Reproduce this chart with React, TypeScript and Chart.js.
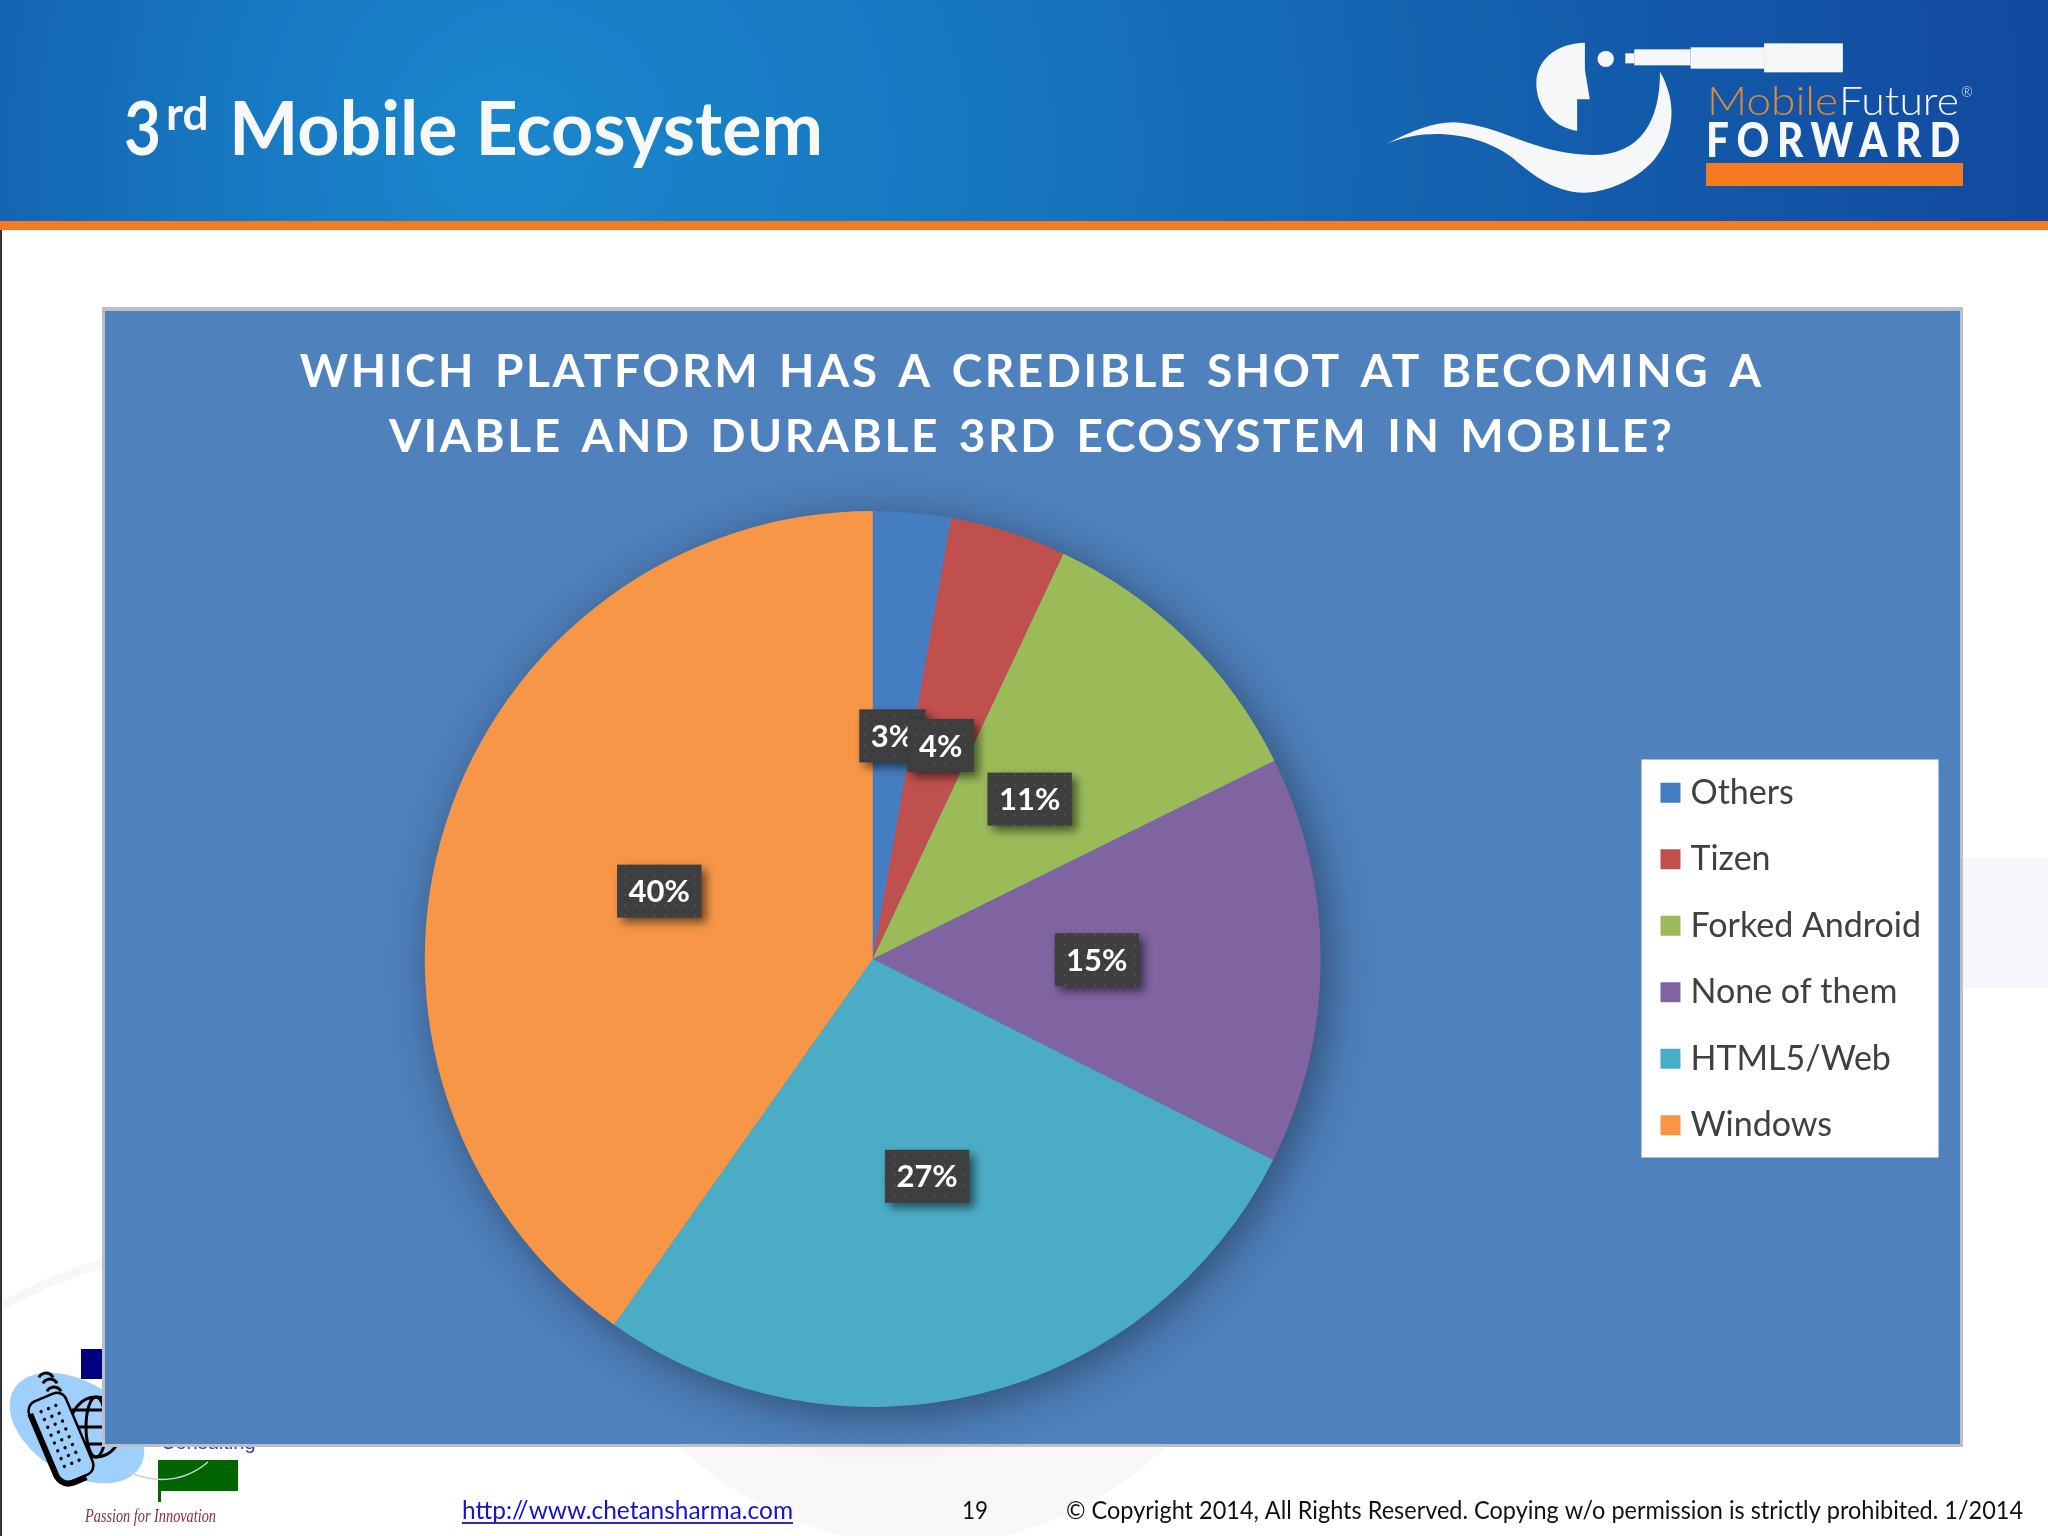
import React, { useEffect, useRef } from "react";
import { Chart, registerables } from "chart.js";

Chart.register(...registerables);

const categories = ["Others", "Tizen", "Forked Android", "None of them", "HTML5/Web", "Windows"];
const shares = [2.8, 4.2, 10.7, 14.7, 27.4, 40.2];
const sliceColors = ["#457dc1", "#c0504d", "#9bbb59", "#8064a2", "#4bacc6", "#f79646"];
const chartTitle = [
  "WHICH PLATFORM HAS A CREDIBLE SHOT AT BECOMING A",
  "VIABLE AND DURABLE 3RD ECOSYSTEM IN MOBILE?",
];
const footerLink = "http://www.chetansharma.com";
const footerPage = "19";
const footerCopy = "© Copyright 2014, All Rights Reserved. Copying w/o permission is strictly prohibited. 1/2014";

type Ctx = CanvasRenderingContext2D;

function rect(c: Ctx, x: number, y: number, w: number, h: number, color: string) {
  c.fillStyle = color;
  c.fillRect(x, y, w, h);
}

function text(c: Ctx, s: string, x: number, y: number, font: string, color: string, maxW?: number, align: CanvasTextAlign = "left") {
  c.font = font;
  c.fillStyle = color;
  c.textAlign = align;
  c.textBaseline = "alphabetic";
  if (maxW) c.fillText(s, x, y, maxW);
  else c.fillText(s, x, y);
}

function stretched(c: Ctx, s: string, x: number, y: number, font: string, color: string, width: number) {
  c.save();
  c.font = font;
  const natural = c.measureText(s).width;
  c.translate(x, y);
  c.scale(width / natural, 1);
  c.fillStyle = color;
  c.textAlign = "left";
  c.textBaseline = "alphabetic";
  c.fillText(s, 0, 0);
  c.restore();
}

function drawSlideBackground(c: Ctx) {
  rect(c, 0, 0, 2048, 1536, "#ffffff");
  // faint master-slide shapes
  c.fillStyle = "#faf7f7";
  c.beginPath();
  c.arc(923, 1195, 350, 0, Math.PI * 2);
  c.fill();
  rect(c, 1963, 858, 85, 130, "#f7f7fb");
  c.strokeStyle = "#f8f7f8";
  c.lineWidth = 9;
  c.beginPath();
  c.moveTo(3, 1305);
  c.quadraticCurveTo(50, 1280, 105, 1262);
  c.stroke();
  rect(c, 0, 230, 2, 1306, "#333333");

  // banner
  const g = c.createRadialGradient(483, 150, 0, 900, 150, 1400);
  g.addColorStop(0, "#1a87cd");
  g.addColorStop(0.25, "#1778c2");
  g.addColorStop(0.5, "#1465b1");
  g.addColorStop(0.86, "#12499e");
  g.addColorStop(1, "#12479c");
  c.fillStyle = g;
  c.fillRect(0, 0, 2048, 221);
  rect(c, 0, 221, 2048, 9, "#f47b20");

  // heading
  text(c, "3", 124, 155, "bold 74px Lato", "#f6f8fa", 37);
  text(c, "rd", 166, 130, "bold 46px Lato", "#f6f8fa", 43);
  text(c, "Mobile Ecosystem", 229, 155, "bold 74px Lato", "#f6f8fa", 594);
}

function drawLogo(c: Ctx) {
  const lx = (z: number) => 1360 + (z * 640) / 1568;
  const ly = (z: number) => 20 + z / 3;
  const white = "#f5f7f8";
  c.fillStyle = white;
  // head
  c.beginPath();
  c.moveTo(lx(551), ly(68));
  c.lineTo(lx(551), ly(150));
  c.lineTo(lx(563), ly(238));
  c.lineTo(lx(532), ly(238));
  c.lineTo(lx(532), ly(333));
  c.bezierCurveTo(lx(470), ly(320), lx(432), ly(260), lx(432), ly(190));
  c.bezierCurveTo(lx(432), ly(120), lx(480), ly(70), lx(551), ly(68));
  c.fill();
  // eye
  c.beginPath();
  c.ellipse(lx(602), ly(117), 8.2, 8, 0, 0, Math.PI * 2);
  c.fill();
  // telescope
  const tube: number[][] = [
    [650, 100, 672, 130],
    [672, 88, 810, 136],
    [810, 82, 990, 146],
    [990, 70, 1183, 157],
  ];
  tube.forEach(([a, b, d, e]) => c.fillRect(lx(a), ly(b), lx(d) - lx(a), ly(e) - ly(b)));
  // swoosh
  c.beginPath();
  c.moveTo(lx(65), ly(372));
  c.bezierCurveTo(lx(130), ly(330), lx(180), ly(308), lx(230), ly(307));
  c.bezierCurveTo(lx(340), ly(312), lx(430), ly(405), lx(570), ly(405));
  c.bezierCurveTo(lx(690), ly(405), lx(735), ly(300), lx(735), ly(155));
  c.bezierCurveTo(lx(775), ly(240), lx(775), ly(340), lx(720), ly(420));
  c.bezierCurveTo(lx(670), ly(490), lx(590), ly(518), lx(550), ly(518));
  c.bezierCurveTo(lx(470), ly(518), lx(410), ly(450), lx(370), ly(410));
  c.bezierCurveTo(lx(300), ly(345), lx(170), ly(315), lx(65), ly(372));
  c.fill();
  // wordmark
  stretched(c, "Mobile", 1707, 115, "300 39px Lato", "#dc8a3c", 131);
  stretched(c, "Future", 1839, 115, "300 39px Lato", white, 120);
  text(c, "®", 1961, 97, "300 14px Lato", white);
  c.save();
  (c as any).letterSpacing = "9px";
  text(c, "FORWARD", 1706, 157, "900 47px Lato", white, 262);
  c.restore();
  rect(c, 1706, 163, 257, 23, "#f47b20");
}

function drawCornerLogo(c: Ctx) {
  rect(c, 81, 1349, 24, 30, "#000080");
  c.fillStyle = "#9fcffb";
  c.beginPath();
  c.ellipse(77, 1428, 74, 46, (32 * Math.PI) / 180, 0, Math.PI * 2);
  c.fill();
  // globe
  c.strokeStyle = "#000000";
  c.lineWidth = 3;
  c.beginPath();
  c.ellipse(96, 1427, 26, 30, 0, 0, Math.PI * 2);
  c.stroke();
  c.beginPath();
  c.ellipse(96, 1427, 10, 30, 0, 0, Math.PI * 2);
  c.stroke();
  [1410, 1427, 1444].forEach((y) => {
    c.beginPath();
    c.moveTo(72, y);
    c.lineTo(122, y);
    c.stroke();
  });
  // remote
  c.save();
  c.translate(61, 1438);
  c.rotate((-23 * Math.PI) / 180);
  c.fillStyle = "#9fcffb";
  c.beginPath();
  c.roundRect(-20, -44, 40, 88, 10);
  c.fill();
  c.strokeStyle = "#000000";
  c.lineWidth = 2.5;
  c.stroke();
  c.lineWidth = 6;
  c.beginPath();
  c.moveTo(-19, -34);
  c.lineTo(-19, 34);
  c.quadraticCurveTo(-17, 45, -6, 46);
  c.lineTo(8, 46);
  c.stroke();
  c.fillStyle = "#000000";
  for (let r = 0; r < 8; r++) {
    for (let k = 0; k < 3; k++) {
      c.beginPath();
      c.arc(-8 + k * 8, -32 + r * 8.5, 1.7, 0, Math.PI * 2);
      c.fill();
    }
  }
  c.restore();
  // signal waves
  c.strokeStyle = "#000000";
  c.lineWidth = 3;
  [[46, 1375], [50, 1381], [54, 1389]].forEach(([x, y]) => {
    c.beginPath();
    c.arc(x, y + 6, 8, Math.PI * 1.15, Math.PI * 1.85);
    c.stroke();
  });
  text(c, "Consulting", 161, 1449, "20px 'Liberation Sans'", "#3b3bb0", 97);
  // flag
  rect(c, 158, 1460, 80, 31, "#006400");
  rect(c, 158, 1491, 3, 11, "#006400");
  c.strokeStyle = "#cfd3d8";
  c.lineWidth = 1.5;
  c.beginPath();
  c.moveTo(130, 1473);
  c.quadraticCurveTo(175, 1490, 208, 1462);
  c.stroke();
  text(c, "Passion for Innovation", 85, 1522, "italic 18px 'Liberation Serif'", "#8b2e3a", 131);
}

function drawPanel(c: Ctx) {
  rect(c, 102, 307, 1861, 1140, "#bcc0c6");
  rect(c, 105, 311, 1855, 1133, "#4f81bd");
}

function drawFooter(c: Ctx) {
  text(c, footerLink, 462, 1519, "25px Lato", "#1414c8", 331);
  rect(c, 462, 1522, 331, 2, "#2a2ac0");
  text(c, footerPage, 962, 1519, "25px Lato", "#111111", 26);
  text(c, footerCopy, 1066, 1519, "25px Lato", "#111111", 957);
}

function makeLabelPattern(c: Ctx) {
  const p = document.createElement("canvas");
  p.width = 10;
  p.height = 10;
  const x = p.getContext("2d")!;
  x.fillStyle = "#3e3e3e";
  x.fillRect(0, 0, 10, 10);
  x.fillStyle = "#4e4e4e";
  x.beginPath();
  x.arc(5, 5, 1.2, 0, Math.PI * 2);
  x.fill();
  return c.createPattern(p, "repeat");
}

const slidePlugin = {
  id: "slide",
  afterLayout(chart: any) {
    const t = chart.titleBlock;
    if (t && !t.__patched) {
      t.__patched = true;
      const orig = t.draw;
      t.draw = function () {
        const c = chart.ctx;
        c.save();
        c.translate(11, 0);
        c.letterSpacing = "2.6px";
        c.wordSpacing = "5px";
        orig.call(this);
        c.restore();
      };
    }
  },
  beforeDraw(chart: any) {
    const c: Ctx = chart.ctx;
    c.save();
    drawSlideBackground(c);
    drawLogo(c);
    drawCornerLogo(c);
    drawPanel(c);
    drawFooter(c);
    const lg = chart.legend;
    rect(c, lg.left + 6.5, (lg.top + lg.bottom) / 2 - 199.5, 297, 398, "#ffffff");
    c.restore();
  },
  beforeDatasetsDraw(chart: any) {
    const c: Ctx = chart.ctx;
    const a = chart.getDatasetMeta(0).data[0];
    c.save();
    c.shadowColor = "rgba(0,0,0,0.42)";
    c.shadowBlur = 46;
    c.shadowOffsetX = 8;
    c.shadowOffsetY = 8;
    c.fillStyle = "#4f81bd";
    c.beginPath();
    c.arc(a.x, a.y, a.outerRadius - 1, 0, Math.PI * 2);
    c.fill();
    c.restore();
  },
  afterDatasetsDraw(chart: any) {
    const c: Ctx = chart.ctx;
    const values: number[] = chart.data.datasets[0].data;
    const total = values.reduce((s, v) => s + v, 0);
    const pattern = makeLabelPattern(c);
    chart.getDatasetMeta(0).data.forEach((arc: any, i: number) => {
      const p = arc.tooltipPosition();
      const label = `${Math.round((values[i] / total) * 100)}%`;
      c.save();
      c.font = "bold 31px Lato";
      const w = c.measureText(label).width + 23;
      const h = 53;
      c.save();
      c.shadowColor = "rgba(0,0,0,0.55)";
      c.shadowBlur = 10;
      c.shadowOffsetX = 5;
      c.shadowOffsetY = 5;
      c.fillStyle = pattern as any;
      c.fillRect(p.x - w / 2, p.y - h / 2, w, h);
      c.restore();
      c.textAlign = "center";
      c.textBaseline = "middle";
      c.fillStyle = "#ffffff";
      c.fillText(label, p.x, p.y + 1);
      c.restore();
    });
  },
};

export default function App() {
  const ref = useRef<HTMLCanvasElement | null>(null);
  useEffect(() => {
    document.body.style.margin = "0";
    const base = (Chart as any).overrides.doughnut.plugins.legend.labels.generateLabels;
    const chart = new Chart(ref.current!, {
      type: "pie",
      data: {
        labels: categories,
        datasets: [{ data: shares, backgroundColor: sliceColors, borderWidth: 0 }],
      },
      options: {
        animation: false,
        responsive: false,
        devicePixelRatio: 1,
        layout: { padding: { left: 110.5, right: 117, top: 339.5, bottom: 129 } },
        plugins: {
          tooltip: { enabled: false },
          title: {
            display: true,
            text: chartTitle,
            color: "#ffffff",
            font: { family: "Lato", size: 46, weight: "bold", lineHeight: 65 / 46 },
            padding: { top: 0, bottom: 41.5 },
          },
          legend: {
            display: true,
            position: "right",
            fullSize: false,
            labels: {
              color: "#404040",
              font: { family: "Lato", size: 34 },
              boxWidth: 6,
              boxHeight: 6,
              padding: 32.5,
              generateLabels: (chart: any) =>
                base(chart).map((it: any) => ({ ...it, strokeStyle: it.fillStyle, lineWidth: 14 })),
            },
          },
        },
      } as any,
      plugins: [slidePlugin as any],
    });
    return () => chart.destroy();
  }, []);
  return (
    <canvas
      ref={ref}
      width={2048}
      height={1536}
      style={{ position: "absolute", left: 0, top: 0, display: "block" }}
    />
  );
}
